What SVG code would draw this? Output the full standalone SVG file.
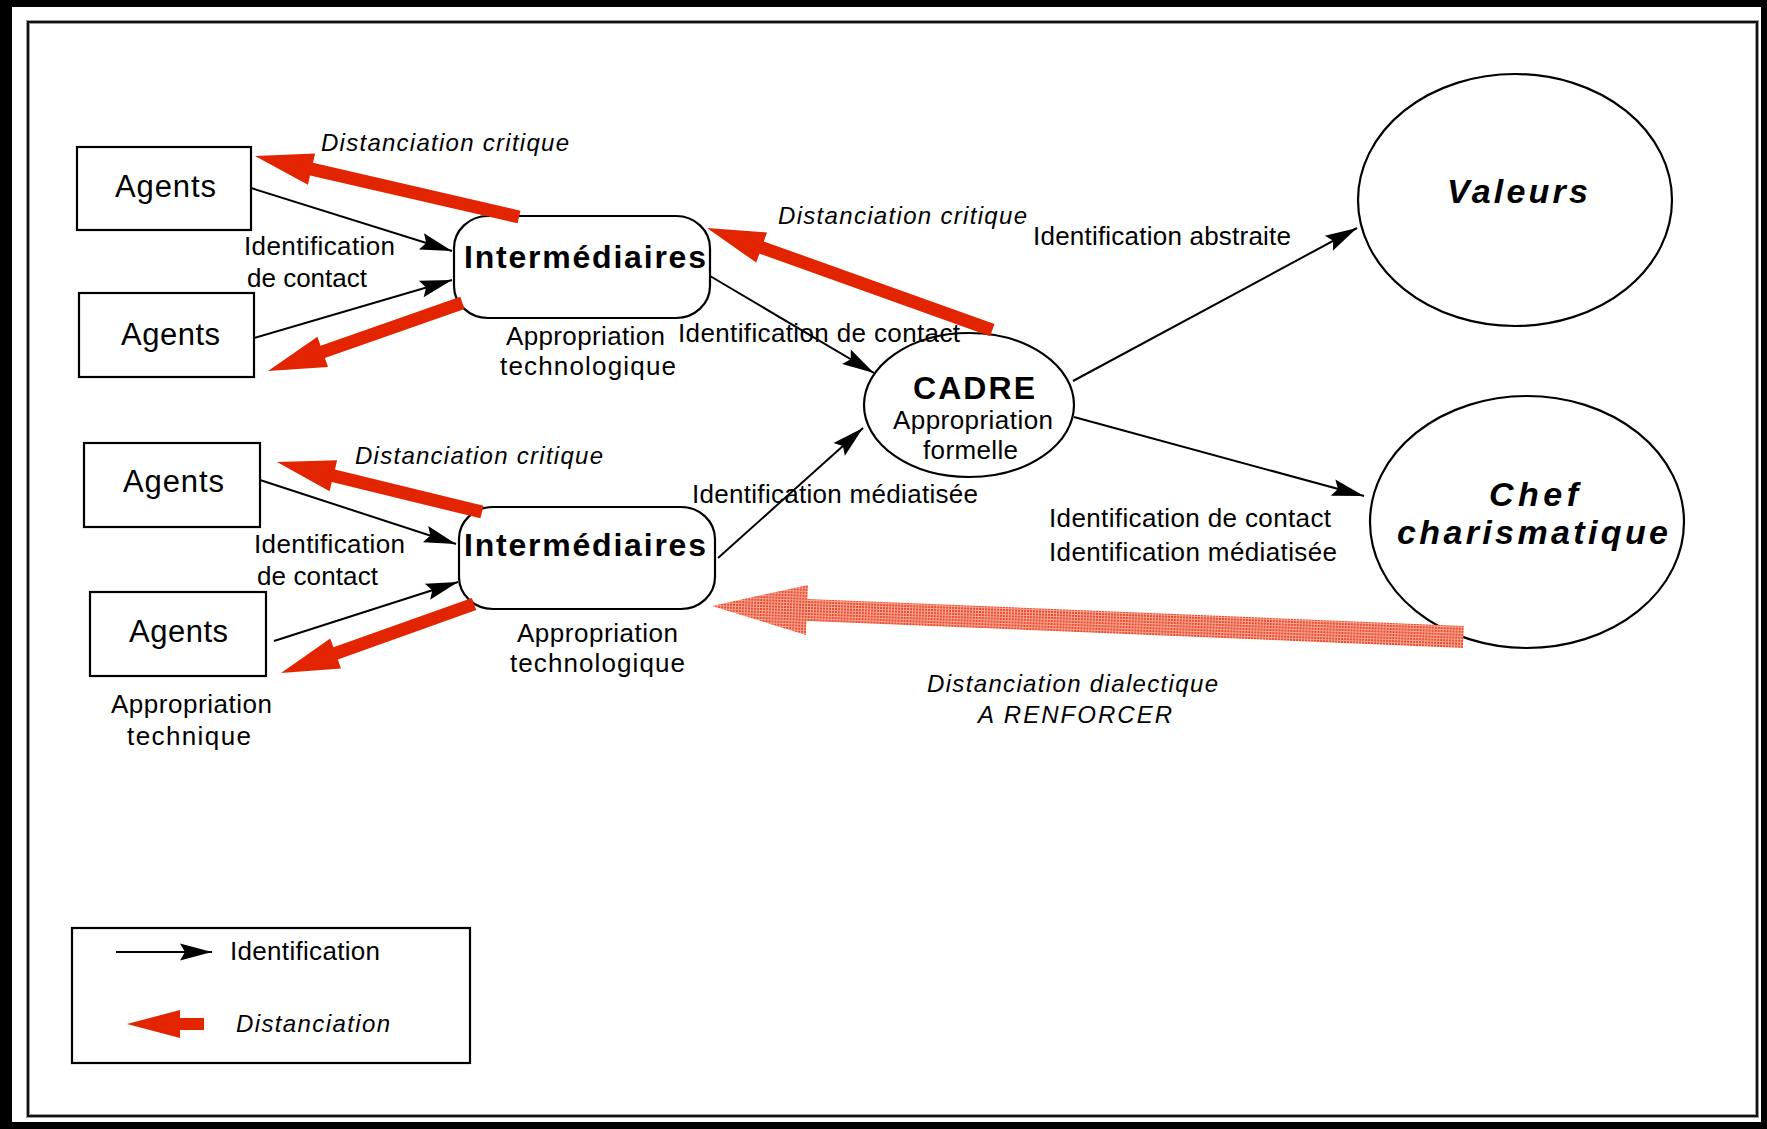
<svg xmlns="http://www.w3.org/2000/svg" width="1767" height="1129" viewBox="0 0 1767 1129">
<defs>
<style>
text{font-family:"Liberation Sans",Arial,sans-serif;fill:#000}
.l{font-size:26px}
.ag{font-size:31px}
.b{font-size:32px;font-weight:bold}
.it{font-size:24px;font-style:italic}
.bi{font-size:34px;font-weight:bold;font-style:italic}
.nd{fill:#fff;stroke:#000;stroke-width:2.2}
.cn{fill:none;stroke:#000;stroke-width:2;marker-end:url(#ah)}
.rd{fill:#e32400}
.rl{fill:url(#dots)}
</style>
<pattern id="dots" patternUnits="userSpaceOnUse" width="3" height="3">
<rect width="3" height="3" fill="#f8a894"/>
<rect width="2" height="2" fill="#ec4a2e"/>
</pattern>
<marker id="ah" markerUnits="userSpaceOnUse" viewBox="-33 -9 34 18" markerWidth="34" markerHeight="18" refX="0" refY="0" orient="auto">
<path d="M0,0 L-32,-8.5 L-27,0 L-32,8.5 Z" fill="#000"/>
</marker>
</defs>
<rect x="0" y="0" width="1767" height="1129" fill="#000"/>
<rect x="12" y="7" width="1749" height="1115" fill="#fff"/>
<rect x="28" y="22" width="1729" height="1094" fill="none" stroke="#9a9a9a" stroke-width="4"/>
<rect x="28" y="22" width="1729" height="1094" fill="none" stroke="#111" stroke-width="2"/>

<g id="agents1"><rect class="nd" x="77" y="147" width="174" height="83"/><text class="ag" x="115" y="197" textLength="101">Agents</text></g>
<g id="agents2"><rect class="nd" x="79" y="293" width="175" height="84"/><text class="ag" x="121" y="345" textLength="99">Agents</text></g>
<g id="agents3"><rect class="nd" x="84" y="443" width="176" height="84"/><text class="ag" x="123" y="492" textLength="101">Agents</text></g>
<g id="agents4"><rect class="nd" x="90" y="592" width="176" height="84"/><text class="ag" x="129" y="642" textLength="99">Agents</text></g>

<g id="intermediaires1"><rect class="nd" x="454" y="216" width="256" height="102" rx="34" ry="32"/><text class="b" x="464" y="268" textLength="242">Intermédiaires</text></g>
<g id="intermediaires2"><rect class="nd" x="459" y="507" width="256" height="102" rx="34" ry="32"/><text class="b" x="464" y="556" textLength="242">Intermédiaires</text></g>

<g id="cadre"><ellipse class="nd" cx="969" cy="405" rx="105" ry="72"/>
<text class="b" x="913" y="399" textLength="122">CADRE</text>
<text class="l" x="893" y="429" textLength="160">Appropriation</text>
<text class="l" x="923" y="459" textLength="95">formelle</text></g>

<g id="valeurs"><ellipse class="nd" cx="1515" cy="200" rx="157" ry="126"/><text class="bi" x="1447" y="203" textLength="141">Valeurs</text></g>
<g id="chef"><ellipse class="nd" cx="1527" cy="522" rx="157" ry="126"/>
<text class="bi" x="1489" y="506" textLength="89">Chef</text>
<text class="bi" x="1397" y="544" textLength="271">charismatique</text></g>

<g id="connectors">
<line class="cn" x1="251" y1="188" x2="452" y2="251"/>
<line class="cn" x1="254" y1="338" x2="452" y2="280"/>
<line class="cn" x1="710" y1="276" x2="874" y2="373"/>
<line class="cn" x1="718" y1="558" x2="863" y2="428"/>
<line class="cn" x1="1073" y1="381" x2="1357" y2="228"/>
<line class="cn" x1="1074" y1="417" x2="1364" y2="496"/>
<line class="cn" x1="260" y1="480" x2="456" y2="544"/>
<line class="cn" x1="274" y1="641" x2="458" y2="582"/>
<polygon class="rd" transform="translate(255 156) rotate(13.01)" points="0,0 58,-16 58,-6.5 271,-6.5 271,6.5 58,6.5 58,16"/>
<polygon class="rd" transform="translate(268 371) rotate(-19.31)" points="0,0 58,-16 58,-6.5 206,-6.5 206,6.5 58,6.5 58,16"/>
<polygon class="rd" transform="translate(707 228) rotate(19.69)" points="0,0 58,-16 58,-6.5 303,-6.5 303,6.5 58,6.5 58,16"/>
<polygon class="rd" transform="translate(277 462) rotate(13.71)" points="0,0 58,-16 58,-6.5 211,-6.5 211,6.5 58,6.5 58,16"/>
<polygon class="rd" transform="translate(281 673) rotate(-19.67)" points="0,0 58,-16 58,-6.5 205,-6.5 205,6.5 58,6.5 58,16"/>
<polygon class="rl" transform="translate(712 606) rotate(2.36)" points="0,0 95,-25 95,-11 752,-11 752,11 95,11 95,25"/>
</g>

<g id="labels">
<text class="it" x="321" y="151" textLength="248">Distanciation critique</text>
<text class="it" x="778" y="224" textLength="249">Distanciation critique</text>
<text class="it" x="355" y="464" textLength="248">Distanciation critique</text>
<text class="it" x="927" y="692" textLength="291">Distanciation dialectique</text>
<text class="it" x="978" y="723" textLength="194">A RENFORCER</text>
<text class="l" x="244" y="255" textLength="151">Identification</text>
<text class="l" x="247" y="287" textLength="120">de contact</text>
<text class="l" x="506" y="345" textLength="159">Appropriation</text>
<text class="l" x="500" y="375" textLength="176">technologique</text>
<text class="l" x="678" y="342" textLength="282">Identification de contact</text>
<text class="l" x="1033" y="245" textLength="258">Identification abstraite</text>
<text class="l" x="692" y="503" textLength="286">Identification médiatisée</text>
<text class="l" x="254" y="553" textLength="151">Identification</text>
<text class="l" x="257" y="585" textLength="121">de contact</text>
<text class="l" x="517" y="642" textLength="161">Appropriation</text>
<text class="l" x="510" y="672" textLength="175">technologique</text>
<text class="l" x="111" y="713" textLength="161">Appropriation</text>
<text class="l" x="127" y="745" textLength="124">technique</text>
<text class="l" x="1049" y="527" textLength="282">Identification de contact</text>
<text class="l" x="1049" y="561" textLength="288">Identification médiatisée</text>
</g>

<g id="legend">
<rect class="nd" x="72" y="928" width="398" height="135"/>
<line class="cn" x1="116" y1="952" x2="212" y2="952"/>
<text class="l" x="230" y="960" textLength="150">Identification</text>
<polygon class="rd" transform="translate(127 1024)" points="0,0 53,-14 53,-6 77,-6 77,6 53,6 53,14"/>
<text class="it" x="236" y="1032" textLength="154">Distanciation</text>
</g>
</svg>
